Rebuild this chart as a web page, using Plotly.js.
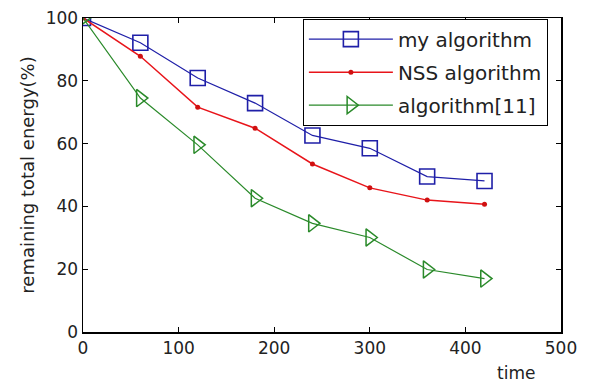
<!DOCTYPE html>
<html>
<head>
<meta charset="utf-8">
<script src="https://cdn.plot.ly/plotly-3.0.1.min.js"></script>
<style>html,body{margin:0;padding:0;background:#fff;}#chart{width:590px;height:385px;}</style>
</head>
<body>
<div id="chart"></div>
<script>
const timeSteps = [0, 60, 120, 180, 240, 300, 360, 420];
const myAlgorithm = [100, 92.1, 80.9, 72.9, 62.6, 58.5, 49.5, 48.1];
const nssAlgorithm = [100, 87.8, 71.6, 64.9, 53.5, 45.9, 42.0, 40.7];
const algorithm11 = [100, 74.5, 59.6, 42.6, 34.6, 30.1, 19.9, 17.0];
const xTicks = [0, 100, 200, 300, 400, 500];
const yTicks = [0, 20, 40, 60, 80, 100];

const FONT = 'DejaVu Sans, Arial, sans-serif';

const traces = [
  {x: timeSteps, y: myAlgorithm, name: 'my algorithm', mode: 'lines+markers', legendgroup: 'a',
   line: {color: '#1f1fa8', width: 1.2},
   marker: {symbol: 'square-open', size: 15, color: '#1f1fa8', line: {width: 1.6}}},
  {x: timeSteps, y: nssAlgorithm, name: 'NSS algorithm', mode: 'lines+markers', legendgroup: 'b',
   line: {color: '#e8141a', width: 1.5},
   marker: {symbol: 'circle', size: 5, color: '#d01010'}},
  {x: timeSteps, y: algorithm11, name: 'algorithm[11]', mode: 'lines+markers', legendgroup: 'c',
   line: {color: '#2a8a2a', width: 1.2},
   marker: {symbol: 'triangle-right-open', size: 15, color: '#2a8a2a', line: {width: 1.5}}}
];

const layout = {
  width: 590, height: 385,
  margin: {l: 83, r: 29, t: 18, b: 53},
  paper_bgcolor: '#fff', plot_bgcolor: '#fff',
  font: {family: FONT, color: '#222', size: 17},
  showlegend: true,
  legend: {x: 0.46, y: 0.998, xanchor: 'left', yanchor: 'top',
    bordercolor: '#000', borderwidth: 1, bgcolor: '#fff',
    font: {family: FONT, size: 20, color: '#222'},
    itemwidth: 84,
    traceorder: 'grouped', tracegroupgap: 4},
  xaxis: {range: [0, 500], tickvals: xTicks, ticktext: xTicks.map(String),
    ticks: 'inside', ticklen: 5, tickcolor: '#000', showline: true, linecolor: '#000', linewidth: 1.5,
    mirror: 'allticks', showgrid: false, zeroline: false,
    tickfont: {family: FONT, size: 17, color: '#222'}},
  yaxis: {range: [0, 100], tickvals: yTicks, ticktext: yTicks.map(String),
    ticks: 'inside', ticklen: 5, tickcolor: '#000', showline: true, linecolor: '#000', linewidth: 1.5,
    mirror: 'allticks', showgrid: false, zeroline: false,
    tickfont: {family: FONT, size: 17, color: '#222'},
    title: {text: 'remaining total energy(%)', font: {family: FONT, size: 18, color: '#222'}, standoff: 6}},
  annotations: [{text: 'time', xref: 'paper', yref: 'paper', x: 0.906, y: 0, yshift: -41,
    xanchor: 'center', yanchor: 'middle', showarrow: false,
    font: {family: FONT, size: 17, color: '#222'}}]
};

Plotly.newPlot('chart', traces, layout, {displayModeBar: false, staticPlot: true});
</script>
</body>
</html>
